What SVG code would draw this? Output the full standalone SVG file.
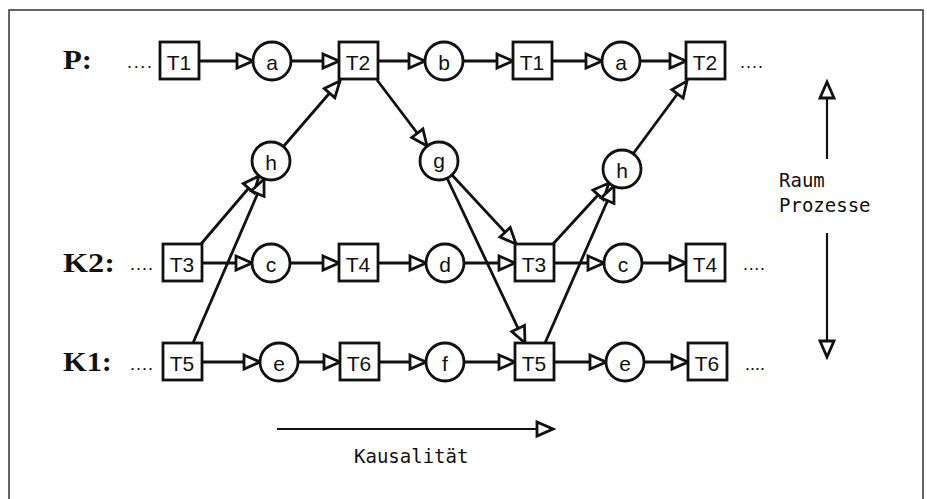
<svg xmlns="http://www.w3.org/2000/svg" width="927" height="499" viewBox="0 0 927 499">
<style>
.box{fill:#fff;stroke:#111;stroke-width:2.8}
.nt{font-family:"Liberation Sans",Arial,sans-serif;font-size:21px;fill:#111;text-anchor:middle;dominant-baseline:central}
.lbl{font-family:"Liberation Serif","Times New Roman",serif;font-size:27px;font-weight:bold;fill:#111}
.dots{font-family:"Liberation Sans",Arial,sans-serif;font-size:18px;fill:#111}
.mono{font-family:"DejaVu Sans Mono","Liberation Mono",monospace;font-size:19px;fill:#111}
.c{stroke:#111;stroke-width:2.8;fill:none;marker-end:url(#tri)}
.thin{stroke:#111;stroke-width:2.2;fill:none;marker-end:url(#tri)}
</style>
<defs>
<marker id="tri" markerUnits="userSpaceOnUse" markerWidth="22" markerHeight="20" viewBox="-3 -3 22 20" refX="16" refY="7" orient="auto">
<path d="M0,0 L16,7 L0,14 Z" fill="#fff" stroke="#111" stroke-width="2.8" stroke-linejoin="miter"/>
</marker>
</defs>
<rect x="9" y="10" width="914" height="496" fill="#fff" stroke="#333" stroke-width="1.5"/>

<g id="labels">
<text class="lbl" x="63" y="69" textLength="29" lengthAdjust="spacingAndGlyphs">P:</text>
<text class="lbl" x="63" y="272" textLength="52" lengthAdjust="spacingAndGlyphs">K2:</text>
<text class="lbl" x="63" y="371" textLength="49" lengthAdjust="spacingAndGlyphs">K1:</text>
<text class="dots" x="127" y="68" textLength="25" lengthAdjust="spacing">....</text>
<text class="dots" x="130" y="270" textLength="23" lengthAdjust="spacing">....</text>
<text class="dots" x="130" y="370" textLength="23" lengthAdjust="spacing">....</text>
<text class="dots" x="740" y="68" textLength="23" lengthAdjust="spacing">....</text>
<text class="dots" x="743" y="270" textLength="22" lengthAdjust="spacing">....</text>
<text class="dots" x="745" y="370" textLength="20" lengthAdjust="spacing">....</text>
</g>

<g id="connectors">
<!-- P row -->
<line class="c" x1="198" y1="61" x2="253" y2="61"/>
<line class="c" x1="291" y1="61" x2="339" y2="61"/>
<line class="c" x1="377" y1="61" x2="425" y2="61"/>
<line class="c" x1="463" y1="61" x2="513" y2="61"/>
<line class="c" x1="551" y1="61" x2="602" y2="61"/>
<line class="c" x1="640" y1="61" x2="686" y2="61"/>
<!-- K2 row -->
<line class="c" x1="201" y1="263" x2="252" y2="263"/>
<line class="c" x1="290" y1="263" x2="339" y2="263"/>
<line class="c" x1="377" y1="263" x2="426" y2="263"/>
<line class="c" x1="464" y1="263" x2="515" y2="263"/>
<line class="c" x1="553" y1="263" x2="604" y2="263"/>
<line class="c" x1="642" y1="263" x2="686" y2="263"/>
<!-- K1 row -->
<line class="c" x1="201" y1="362" x2="260" y2="362"/>
<line class="c" x1="298" y1="362" x2="340" y2="362"/>
<line class="c" x1="378" y1="362" x2="426" y2="362"/>
<line class="c" x1="464" y1="362" x2="515" y2="362"/>
<line class="c" x1="553" y1="362" x2="606" y2="362"/>
<line class="c" x1="644" y1="362" x2="688" y2="362"/>
<!-- diagonals -->
<line class="c" x1="201" y1="244" x2="259" y2="176"/>
<line class="c" x1="193" y1="343" x2="264" y2="179"/>
<line class="c" x1="283" y1="147" x2="340" y2="81"/>
<line class="c" x1="377" y1="80" x2="427" y2="146"/>
<line class="c" x1="452" y1="175" x2="516" y2="244"/>
<line class="c" x1="447" y1="178" x2="525" y2="343"/>
<line class="c" x1="553" y1="244" x2="609" y2="183"/>
<line class="c" x1="545" y1="343" x2="614" y2="186"/>
<line class="c" x1="633" y1="154" x2="687" y2="81"/>
<!-- Kausalitaet arrow -->
<line class="thin" x1="277" y1="429" x2="553" y2="429"/>
<!-- Raum arrows -->
<line class="thin" x1="827" y1="159" x2="827" y2="82"/>
<line class="thin" x1="827" y1="233" x2="827" y2="357"/>
</g>

<g id="T1a"><rect class="box" x="160" y="42" width="39" height="37"/><text class="nt" x="179" y="62">T1</text></g>
<g id="a1"><circle class="box" cx="272" cy="61" r="19"/><text class="nt" x="272" y="62">a</text></g>
<g id="T2a"><rect class="box" x="339" y="42" width="39" height="37"/><text class="nt" x="358" y="62">T2</text></g>
<g id="b"><circle class="box" cx="444" cy="61" r="19"/><text class="nt" x="444" y="62">b</text></g>
<g id="T1b"><rect class="box" x="513" y="42" width="39" height="37"/><text class="nt" x="532" y="62">T1</text></g>
<g id="a2"><circle class="box" cx="621" cy="61" r="19"/><text class="nt" x="621" y="62">a</text></g>
<g id="T2b"><rect class="box" x="686" y="42" width="39" height="37"/><text class="nt" x="705" y="62">T2</text></g>

<g id="h1"><circle class="box" cx="271" cy="161" r="19"/><text class="nt" x="271" y="162">h</text></g>
<g id="g"><circle class="box" cx="439" cy="161" r="19"/><text class="nt" x="439" y="160">g</text></g>
<g id="h2"><circle class="box" cx="622" cy="169" r="19"/><text class="nt" x="622" y="170">h</text></g>

<g id="T3a"><rect class="box" x="163" y="244" width="39" height="37"/><text class="nt" x="182" y="264">T3</text></g>
<g id="c1"><circle class="box" cx="271" cy="263" r="19"/><text class="nt" x="271" y="264">c</text></g>
<g id="T4a"><rect class="box" x="339" y="244" width="39" height="37"/><text class="nt" x="358" y="264">T4</text></g>
<g id="d"><circle class="box" cx="445" cy="263" r="19"/><text class="nt" x="445" y="264">d</text></g>
<g id="T3b"><rect class="box" x="515" y="244" width="39" height="37"/><text class="nt" x="534" y="264">T3</text></g>
<g id="c2"><circle class="box" cx="623" cy="263" r="19"/><text class="nt" x="623" y="264">c</text></g>
<g id="T4b"><rect class="box" x="686" y="244" width="39" height="37"/><text class="nt" x="705" y="264">T4</text></g>

<g id="T5a"><rect class="box" x="163" y="343" width="39" height="37"/><text class="nt" x="182" y="363">T5</text></g>
<g id="e1"><circle class="box" cx="279" cy="362" r="19"/><text class="nt" x="279" y="363">e</text></g>
<g id="T6a"><rect class="box" x="340" y="343" width="39" height="37"/><text class="nt" x="359" y="363">T6</text></g>
<g id="f"><circle class="box" cx="445" cy="362" r="19"/><text class="nt" x="445" y="363">f</text></g>
<g id="T5b"><rect class="box" x="515" y="343" width="39" height="37"/><text class="nt" x="534" y="363">T5</text></g>
<g id="e2"><circle class="box" cx="625" cy="362" r="19"/><text class="nt" x="625" y="363">e</text></g>
<g id="T6b"><rect class="box" x="688" y="343" width="39" height="37"/><text class="nt" x="707" y="363">T6</text></g>

<g id="texts">
<text class="mono" x="354" y="463">Kausalität</text>
<text class="mono" x="779" y="187">Raum</text>
<text class="mono" x="779" y="212">Prozesse</text>
</g>
</svg>
